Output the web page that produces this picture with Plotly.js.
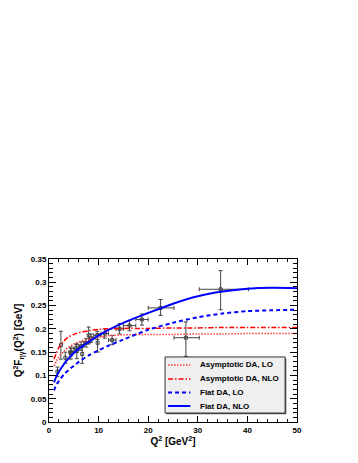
<!DOCTYPE html>
<html>
<head>
<meta charset="utf-8">
<script src="https://cdn.plot.ly/plotly-3.0.1.min.js"></script>
<style>
  body { margin: 0; background: #fff; }
  #chart { width: 358px; height: 463px; }
</style>
</head>
<body>
<div id="chart"></div>
<script>
var FONT = "Liberation Sans, Arial, Helvetica, sans-serif";

// theory curves
var curveQ2 = [1, 1.5, 2, 3, 4, 5, 6, 8, 10, 12, 15, 20, 25, 30, 35, 40, 45, 50];
var asyLO   = [0.120, 0.131, 0.140, 0.152, 0.161, 0.167, 0.172, 0.178, 0.182, 0.185, 0.187, 0.188, 0.188, 0.189, 0.189, 0.190, 0.190, 0.190];
var asyNLO  = [0.135, 0.148, 0.160, 0.174, 0.183, 0.188, 0.192, 0.196, 0.199, 0.200, 0.201, 0.201, 0.202, 0.202, 0.203, 0.203, 0.203, 0.203];
var flatLO  = [0.068, 0.080, 0.088, 0.102, 0.112, 0.121, 0.129, 0.143, 0.154, 0.164, 0.177, 0.198, 0.213, 0.225, 0.233, 0.238, 0.240, 0.241];
var flatNLO = [0.085, 0.098, 0.108, 0.124, 0.137, 0.148, 0.157, 0.172, 0.186, 0.198, 0.213, 0.234, 0.254, 0.270, 0.280, 0.286, 0.288, 0.287];

var curveNames  = ["Asymptotic DA, LO", "Asymptotic DA, NLO", "Flat DA, LO", "Flat DA, NLO"];
var curveColors = ["#ff3b3b", "#ff0000", "#0000ff", "#0000ff"];
var curveDashes = ["1.5px,1.5px", "5px,2px,1.5px,2px", "4px,3px", "solid"];
var curveWidths = [1.5, 1.5, 2, 2];

// low Q2 measurements
var cleoQ2  = [1.7, 2.4, 3.3, 4.4, 5.6, 6.7, 8.0, 9.8];
var cleoF   = [0.108, 0.165, 0.138, 0.148, 0.152, 0.146, 0.186, 0.170];
var cleoErr = [0.010, 0.030, 0.012, 0.013, 0.016, 0.020, 0.018, 0.020];

// binned measurements with Q2 bin widths
var babarQ2   = [4.47, 5.47, 6.47, 7.47, 8.48, 9.73, 11.23, 12.73, 14.23, 16.23, 18.73, 22.5, 27.6, 34.6];
var babarLow  = [0.47, 0.47, 0.47, 0.47, 0.48, 0.73, 0.73, 0.73, 0.73, 1.23, 1.23, 2.5, 2.4, 4.3];
var babarHigh = [0.53, 0.53, 0.53, 0.53, 0.52, 0.77, 0.77, 0.77, 0.77, 1.27, 1.27, 2.7, 2.7, 5.6];
var babarF    = [0.150, 0.158, 0.163, 0.170, 0.180, 0.186, 0.190, 0.176, 0.200, 0.207, 0.220, 0.245, 0.181, 0.285];
var babarErrUp   = [0.008, 0.008, 0.009, 0.009, 0.009, 0.009, 0.010, 0.010, 0.011, 0.011, 0.012, 0.018, 0.034, 0.040];
var babarErrDown = [0.008, 0.008, 0.009, 0.009, 0.009, 0.009, 0.010, 0.010, 0.011, 0.011, 0.012, 0.016, 0.040, 0.044];

var errColor = "#444444";

var data = [
  {
    type: 'scatter', mode: 'markers', showlegend: false,
    x: cleoQ2, y: cleoF,
    marker: { symbol: 'square-open', size: 3, color: errColor, line: { width: 1, color: errColor } },
    error_y: { type: 'data', array: cleoErr, visible: true, color: errColor, thickness: 1, width: 2 }
  },
  {
    type: 'scatter', mode: 'markers', showlegend: false,
    x: babarQ2, y: babarF,
    marker: { symbol: 'square-open', size: 3, color: errColor, line: { width: 1, color: errColor } },
    error_x: { type: 'data', symmetric: false, array: babarHigh, arrayminus: babarLow, visible: true, color: errColor, thickness: 1, width: 2 },
    error_y: { type: 'data', symmetric: false, array: babarErrUp, arrayminus: babarErrDown, visible: true, color: errColor, thickness: 1, width: 2 }
  }
];

var curveValues = [asyLO, asyNLO, flatLO, flatNLO];
curveValues.forEach(function(y, i) {
  data.push({
    type: 'scatter', mode: 'lines', name: curveNames[i], showlegend: false,
    x: curveQ2, y: y,
    line: { color: curveColors[i], dash: curveDashes[i], width: curveWidths[i], shape: 'spline', smoothing: 0.8 }
  });
});

// legend box drawn by hand (ROOT style, compact rows)
var legX0 = 0.468, legX1 = 0.952, legY0 = 0.055, legY1 = 0.399;
var shapes = [
  { type: 'rect', xref: 'paper', yref: 'paper', x0: legX0 + 0.005, x1: legX1 + 0.005, y0: legY0 - 0.008, y1: legY1 - 0.008,
    fillcolor: '#555', line: { width: 0 } },
  { type: 'rect', xref: 'paper', yref: 'paper', x0: legX0, x1: legX1, y0: legY0, y1: legY1,
    fillcolor: '#efefef', line: { color: '#333', width: 1 } }
];
var annotations = [];
var rowY = [0.350, 0.264, 0.181, 0.098];
curveNames.forEach(function(name, i) {
  shapes.push({
    type: 'line', xref: 'paper', yref: 'paper', x0: 0.480, x1: 0.570, y0: rowY[i], y1: rowY[i],
    line: { color: curveColors[i], dash: curveDashes[i], width: curveWidths[i] }
  });
  annotations.push({
    xref: 'paper', yref: 'paper', x: 0.600, y: rowY[i], xanchor: 'left', yanchor: 'middle',
    text: name, showarrow: false,
    font: { family: FONT, size: 8, weight: 'bold', color: '#000' }
  });
});

var axisBase = {
  showline: true, linecolor: '#000', linewidth: 1, mirror: 'allticks',
  ticks: 'inside', tickcolor: '#000', tickwidth: 1,
  showgrid: false, zeroline: false,
  tickfont: { family: FONT, size: 8, weight: 'bold', color: '#000' }
};

var layout = {
  width: 358, height: 463,
  margin: { l: 49, r: 61, t: 259, b: 41 },
  paper_bgcolor: '#fff', plot_bgcolor: '#fff',
  showlegend: false,
  xaxis: Object.assign({}, axisBase, {
    range: [0, 50], tick0: 0, dtick: 10, ticklen: 6,
    minor: { ticks: 'inside', ticklen: 3, dtick: 2, tickcolor: '#000' },
    title: { text: 'Q<sup>2</sup> [GeV<sup>2</sup>]', font: { family: FONT, size: 10, weight: 'bold', color: '#000' }, standoff: 4 }
  }),
  yaxis: Object.assign({}, axisBase, {
    range: [0, 0.35], tick0: 0, dtick: 0.05, ticklen: 7,
    minor: { ticks: 'inside', ticklen: 4, dtick: 0.01, tickcolor: '#000' },
    title: { text: 'Q<sup>2</sup>F<sub>ηγ</sub>(Q<sup>2</sup>) [GeV]', font: { family: FONT, size: 10, weight: 'bold', color: '#000' }, standoff: 6 }
  }),
  shapes: shapes,
  annotations: annotations
};

Plotly.newPlot('chart', data, layout, { displayModeBar: false, staticPlot: true });
</script>
</body>
</html>
